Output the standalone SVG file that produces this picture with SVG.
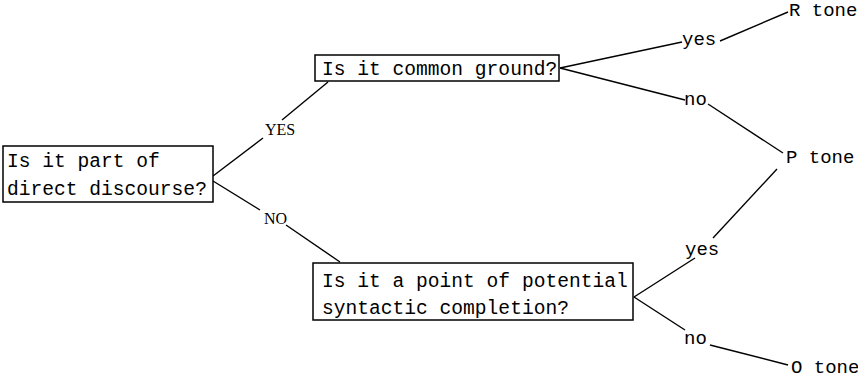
<svg xmlns="http://www.w3.org/2000/svg" width="858" height="378" viewBox="0 0 858 378">
<style>
.box{fill:#fff;stroke:#000;stroke-width:1.5}
.t{font-family:"Liberation Mono",monospace;font-size:19.6px;fill:#000}
.l{font-family:"Liberation Mono",monospace;font-size:19px;fill:#000}
.s{font-family:"Liberation Serif",serif;font-size:16px;fill:#000}
.c line{stroke:#000;stroke-width:1.4}
</style>
<rect width="858" height="378" fill="#fff"/>
<g class="c" id="connectors">
<line x1="213" y1="176" x2="263" y2="138"/>
<line x1="282" y1="120" x2="328" y2="82"/>
<line x1="213" y1="181" x2="260" y2="210"/>
<line x1="286" y1="225" x2="340" y2="262"/>
<line x1="560" y1="68" x2="682" y2="42"/>
<line x1="720" y1="41" x2="788" y2="12"/>
<line x1="560" y1="68" x2="685" y2="100"/>
<line x1="708" y1="104" x2="783" y2="153"/>
<line x1="777" y1="169" x2="713" y2="238"/>
<line x1="634" y1="297" x2="695" y2="258"/>
<line x1="634" y1="297" x2="685" y2="330"/>
<line x1="710" y1="345" x2="788" y2="365"/>
</g>
<g id="n-direct">
<rect class="box" x="3" y="146" width="210" height="56"/>
<text class="t" x="7" y="167">Is it part of</text>
<text class="t" x="7" y="195">direct discourse?</text>
</g>
<g id="n-common">
<rect class="box" x="315" y="55" width="244" height="26"/>
<text class="t" x="322" y="75">Is it common ground?</text>
</g>
<g id="n-completion">
<rect class="box" x="313" y="263" width="320" height="57"/>
<text class="t" x="322" y="287">Is it a point of potential</text>
<text class="t" x="322" y="314">syntactic completion?</text>
</g>
<g id="labels">
<text class="s" x="265" y="135">YES</text>
<text class="s" x="264" y="224">NO</text>
<text class="l" x="682" y="45">yes</text>
<text class="l" x="684" y="105">no</text>
<text class="l" x="685" y="255">yes</text>
<text class="l" x="684" y="344">no</text>
</g>
<g id="n-R"><text class="l" x="789" y="16">R tone</text></g>
<g id="n-P"><text class="l" x="786" y="163">P tone</text></g>
<g id="n-O"><text class="l" x="791" y="373">O tone</text></g>
</svg>
